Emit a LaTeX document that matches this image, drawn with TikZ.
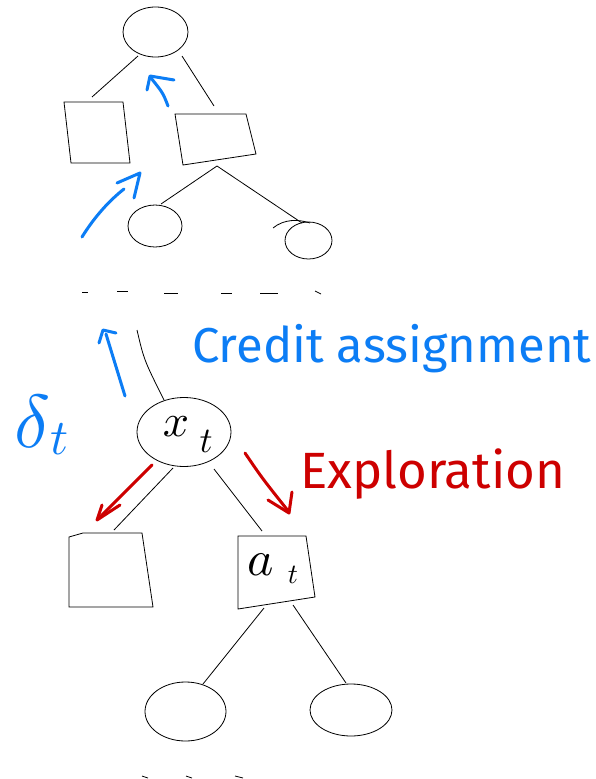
\documentclass[tikz,border=0pt]{standalone}
\usepackage{fontspec}
\setsansfont{Fira Sans}
\usetikzlibrary{shapes.geometric}
\definecolor{penblue}{RGB}{12,125,245}
\definecolor{penred}{RGB}{205,0,0}
\begin{document}
\begin{tikzpicture}[x=1pt,y=-1pt,
  edge/.style={line width=0.8pt, black},
  state/.style={ellipse, draw, line width=0.8pt, inner sep=0pt},
  pen/.style={line width=3pt, line cap=round, line join=round},
  dashmark/.style={line width=0.8pt, black},
  glyph/.style={inner sep=0pt},
  label/.style={font=\sffamily\fontsize{49}{49}\selectfont, inner sep=0pt}
]
\useasboundingbox[fill=white] (0,0) rectangle (595,779);

% ---------- upper tree ----------
\node[state, minimum width=65pt, minimum height=50pt] (s0) at (155.5,32) {};
\draw[edge] (64,102) -- (123,102) -- (130,163) -- (71,163) -- cycle;
\draw[edge] (175,114) -- (246,114) -- (256,154) -- (183,165) -- cycle;
\coordinate (s0l) at (138,56);  \coordinate (b1t) at (92,97);
\coordinate (s0r) at (182,56);  \coordinate (b2t) at (214,106);
\coordinate (b2b) at (217,166);
\draw[edge] (s0l) -- (b1t);
\draw[edge] (s0r) -- (b2t);
\node[state, minimum width=54pt, minimum height=42pt] (s1) at (155,226) {};
\node[state, minimum width=47pt, minimum height=37pt] (s2) at (308.5,240.5) {};
\coordinate (s1t) at (161,204);
\coordinate (s2t) at (302,223);
\draw[edge] (b2b) -- (s1t);
\draw[edge] (b2b) -- (s2t);
\draw[edge] (273,228) .. controls (284,219) and (298,219) .. (310,223);

% blue credit arrows (top)
\draw[pen, penblue] (168,106) .. controls (163,93) .. (151,78);
\draw[pen, penblue] (147,90) -- (150,76) -- (174,80);
\draw[pen, penblue] (82,237) .. controls (95,216) and (110,200) .. (124,189);
\draw[pen, penblue] (117,183) -- (140,173) -- (134,198);

% dashed separator
\draw[dashmark] (82,292) -- (88,292);
\draw[dashmark] (117,291) -- (128,291);
\draw[dashmark] (164,293) -- (178,293);
\draw[dashmark] (221,293) -- (232,293);
\draw[dashmark] (260,293) -- (278,293);
\draw[dashmark] (315,291) -- (321,294);

% ---------- lower tree ----------
\node[state, minimum width=94pt, minimum height=69pt] (xt) at (184,432) {};
\node[glyph] (xtx) at (176,427) {\scalebox{4.6}{$x$}};
\node[glyph] (xtt) at (206,441) {\scalebox{3.6}{$t$}};
\coordinate (up) at (137,330);
\draw[edge] (up) .. controls (144,360) .. (164,400);

\draw[pen, penblue] (125,396) -- (106,334);
\draw[pen, penblue] (99,343) -- (103,330) -- (116,333);
\node[glyph, text=penblue] (delta) at (33,421) {\scalebox{7.5}{$\delta$}};
\node[glyph, text=penblue] (deltat) at (60,439) {\scalebox{5}{$t$}};

\node[label, text=penblue, anchor=base west] (credit) at (192,362) {Credit assignment};
\node[label, text=penred, anchor=base west, font=\sffamily\fontsize{51}{51}\selectfont] (explo) at (300,488) {Exploration};

\coordinate (xtl1) at (173,468); \coordinate (b3t) at (114,530);
\coordinate (xtr1) at (214,469); \coordinate (b4t) at (262,531);
\draw[edge] (xtl1) -- (b3t);
\draw[edge] (xtr1) -- (b4t);

% red exploration arrows
\draw[pen, penred] (152,465) -- (98,519);
\draw[pen, penred] (120,505) -- (97,520) -- (102,505);
\draw[pen, penred] (245,453) .. controls (262,478) .. (289,512);
\draw[pen, penred] (268,500) -- (289,513) -- (292,492);

\draw[edge] (69,537) -- (83,533) -- (142,533) -- (153,607) -- (69,607) -- cycle;
\draw[edge] (238,536) -- (306,536) -- (315,597) -- (238,609) -- cycle;
\node[glyph] (ata) at (261,565) {\scalebox{5}{$a$}};
\node[glyph] (att) at (293,575) {\scalebox{2.8}{$t$}};

\node[state, minimum width=81pt, minimum height=59pt] (s3) at (185.5,711.5) {};
\node[state, minimum width=82pt, minimum height=52pt] (s4) at (351,710) {};
\coordinate (b4l) at (264,608); \coordinate (s3t) at (203,684);
\coordinate (b4r) at (293,605); \coordinate (s4t) at (346,683);
\draw[edge] (b4l) -- (s3t);
\draw[edge] (b4r) -- (s4t);

% bottom dashes
\draw[dashmark] (142,776) -- (148,778);
\draw[dashmark] (186,776) -- (192,778);
\draw[dashmark] (235,776) -- (243,778);
\end{tikzpicture}
\end{document}
